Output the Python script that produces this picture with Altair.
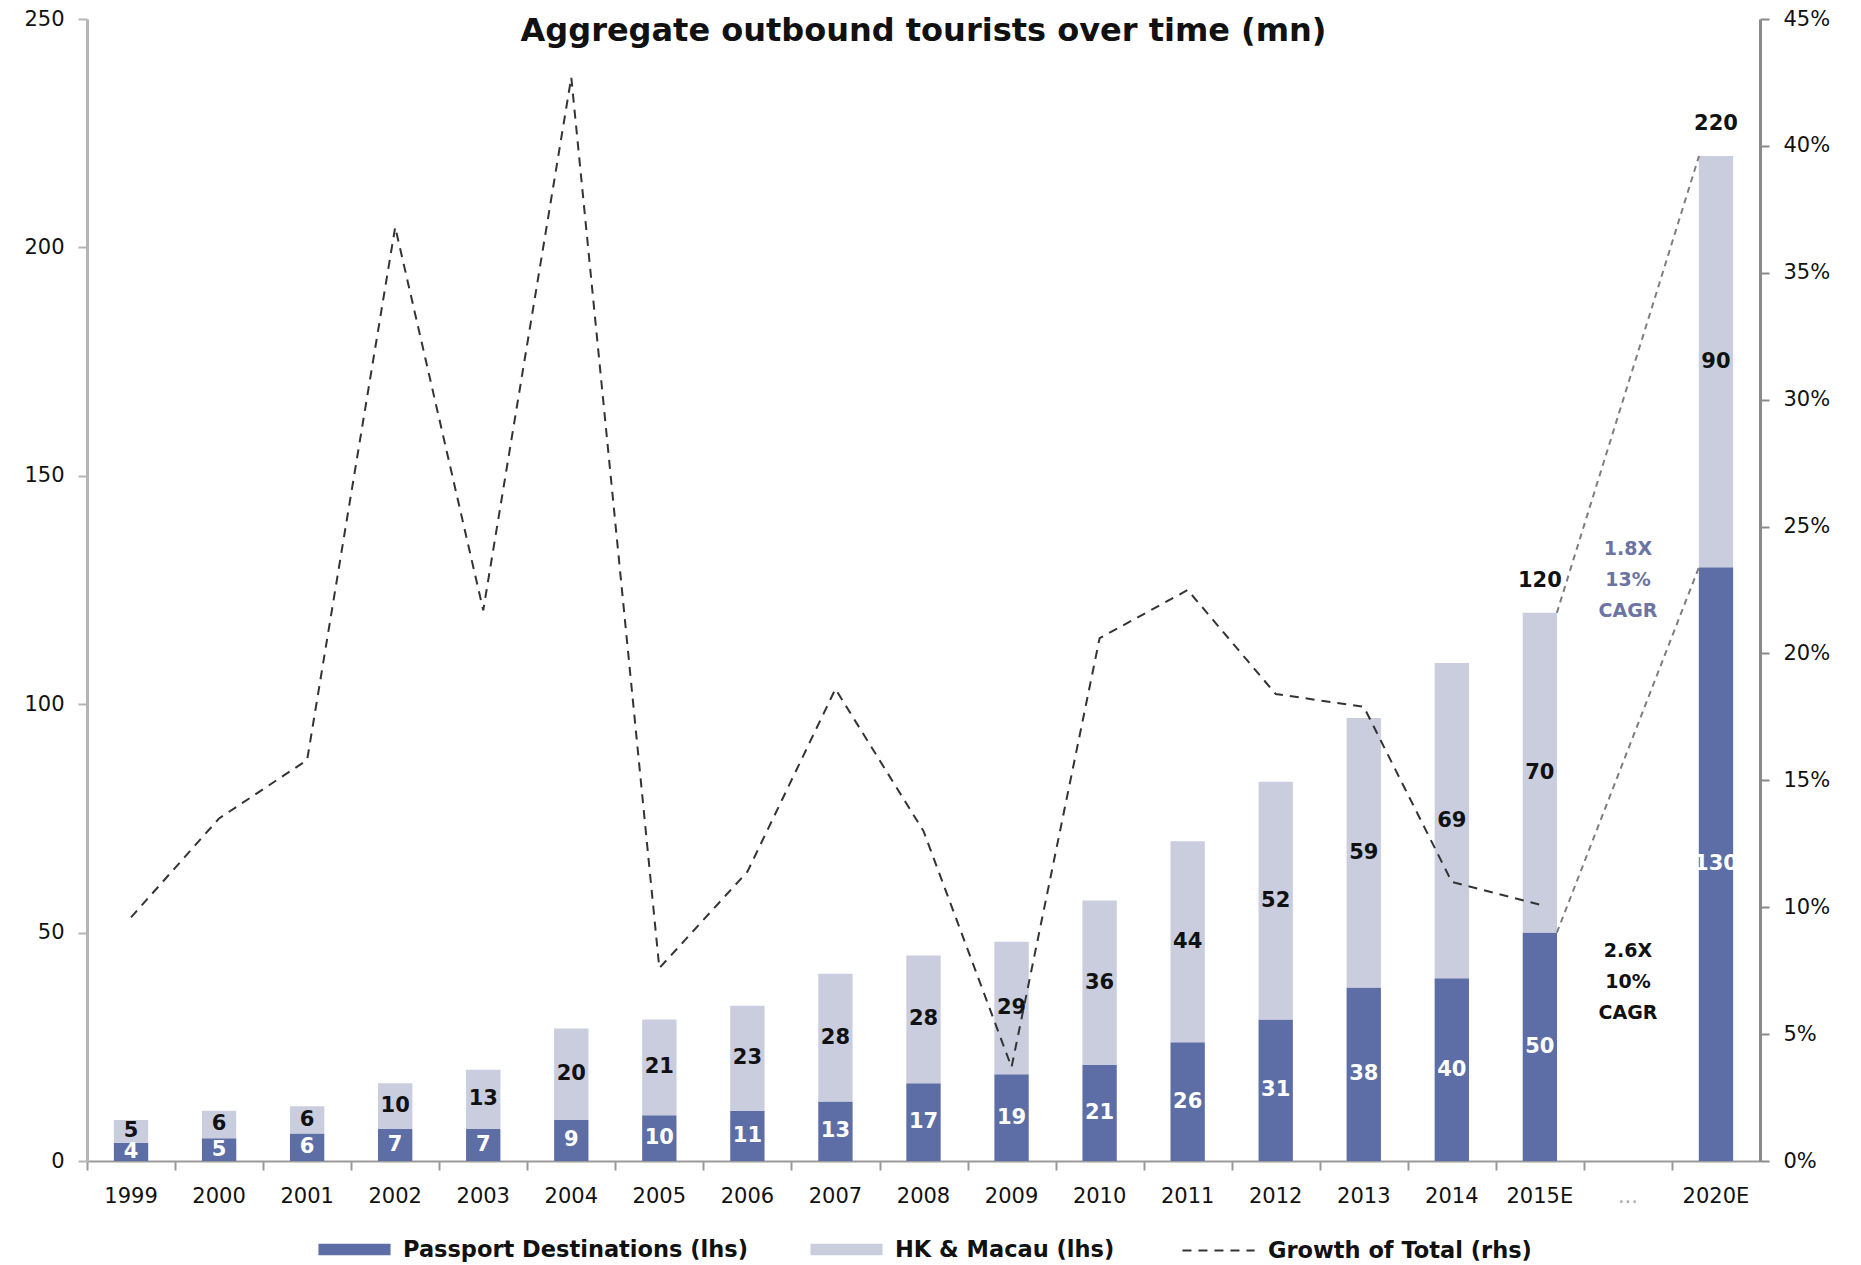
import altair as alt
import pandas as pd

# Categories along the x axis ("..." is an empty spacer before the 2020 estimate)
categories = ["1999", "2000", "2001", "2002", "2003", "2004", "2005", "2006",
              "2007", "2008", "2009", "2010", "2011", "2012", "2013", "2014",
              "2015E", "...", "2020E"]

# Outbound tourists (mn), left axis
passport = [4, 5, 6, 7, 7, 9, 10, 11, 13, 17, 19, 21, 26, 31, 38, 40, 50, None, 130]
hk_macau = [5, 6, 6, 10, 13, 20, 21, 23, 28, 28, 29, 36, 44, 52, 59, 69, 70, None, 90]

# Year-on-year growth of the total, right axis
growth = [0.096, 0.135, 0.158, 0.368, 0.217, 0.427, 0.076, 0.114, 0.186, 0.130,
          0.037, 0.206, 0.225, 0.184, 0.179, 0.110, 0.101, None, None]

SER_P = "Passport Destinations (lhs)"
SER_H = "HK & Macau (lhs)"
SER_G = "Growth of Total (rhs)"

total_label_cats = ["2015E", "2020E"]

# Projection callouts: (label category, y position on lhs, text, colour)
callouts = [("...", 134, "1.8X\n13%\nCAGR", "#6b74a3"),
            ("...", 46, "2.6X\n10%\nCAGR", "#111111")]

# ---- tables built from the arrays above ----
rows = []
for c, p, h in zip(categories, passport, hk_macau):
    if p is not None:
        rows.append({"cat": c, "series": SER_P, "value": p, "order": 0})
    if h is not None:
        rows.append({"cat": c, "series": SER_H, "value": h, "order": 1})
bars_df = pd.DataFrame(rows)

totals_df = pd.DataFrame([
    {"cat": c, "total": p + h}
    for c, p, h in zip(categories, passport, hk_macau)
    if c in total_label_cats
])

growth_df = pd.DataFrame([
    {"cat": c, "growth": g, "name": SER_G}
    for c, g in zip(categories, growth) if g is not None
])

i15, i20 = categories.index("2015E"), categories.index("2020E")
links_df = pd.DataFrame([
    {"c0": "2015E", "c1": "2020E",
     "y0": passport[i15] + hk_macau[i15], "y1": passport[i20] + hk_macau[i20]},
    {"c0": "2015E", "c1": "2020E", "y0": passport[i15], "y1": passport[i20]},
])

callout_df = pd.DataFrame([
    {"cat": c, "y": y, "txt": t, "col": col} for c, y, t, col in callouts
])

# ---- shared scales & axes ----
FONT = "DejaVu Sans"
xscale = alt.Scale(domain=categories, paddingInner=0.61, paddingOuter=0.305)
lhs_scale = alt.Scale(domain=[0, 250], nice=False, zero=True)
rhs_scale = alt.Scale(domain=[0, 0.45], nice=False, zero=True)

lhs_axis = alt.Axis(orient="left", values=[0, 50, 100, 150, 200, 250], title=None,
                    grid=False, domainColor="#b5b5b5", domainWidth=3,
                    tickColor="#b5b5b5", tickSize=9, tickWidth=2,
                    labelFont=FONT, labelFontSize=21, labelColor="#111",
                    labelPadding=14)
rhs_axis = alt.Axis(orient="right", values=[i * 0.05 for i in range(10)],
                    format=".0%", title=None, grid=False,
                    domainColor="#8a8a8a", domainWidth=3,
                    tickColor="#8a8a8a", tickSize=9, tickWidth=2,
                    labelFont=FONT, labelFontSize=21, labelColor="#111",
                    labelPadding=14)
x_label_axis = alt.Axis(orient="bottom", title=None, ticks=False, labelAngle=0,
                        domainColor="#9a9a9a", domainWidth=2,
                        labelFont=FONT, labelFontSize=21, labelPadding=24,
                        labelColor=alt.expr("datum.value == '...' ? '#aaaaaa' : '#111111'"))
x_tick_axis = alt.Axis(orient="bottom", title=None, labels=False, domain=False,
                       ticks=True, tickSize=9, tickWidth=2, tickColor="#9a9a9a",
                       tickOffset=-44)

X = lambda field, axis=None: alt.X(f"{field}:N", sort=categories, scale=xscale, axis=axis)

stacked = alt.Chart(bars_df).transform_stack(
    stack="value", groupby=["cat"], as_=["v0", "v1"],
    sort=[alt.SortField("order", order="ascending")]
)

bars = stacked.mark_bar().encode(
    x=X("cat", x_label_axis),
    y=alt.Y("v0:Q", scale=lhs_scale, axis=lhs_axis),
    y2="v1:Q",
    color=alt.Color(
        "series:N",
        scale=alt.Scale(domain=[SER_P, SER_H], range=["#5d6ea6", "#c9cdde"]),
        legend=alt.Legend(
            title=None, orient="none", legendX=231, legendY=1194,
            direction="horizontal", padding=0,
            symbolType="M-1,-0.16L1,-0.16L1,0.16L-1,0.16Z", symbolSize=5200,
            symbolStrokeWidth=0, labelFont=FONT, labelFontWeight="bold",
            labelFontSize=22.5, labelColor="#111", labelOffset=12,
            labelLimit=600, columnPadding=62,
        ),
    ),
)

seg_labels = stacked.transform_calculate(
    mid="(datum.v0 + datum.v1) / 2"
).mark_text(font=FONT, fontSize=21, fontWeight="bold").encode(
    x=X("cat", x_tick_axis),
    y=alt.Y("mid:Q", scale=lhs_scale, axis=None),
    text=alt.Text("value:Q"),
    color=alt.condition(alt.datum.series == SER_P, alt.value("white"), alt.value("#111")),
)

total_labels = alt.Chart(totals_df).mark_text(
    font=FONT, fontSize=21, fontWeight="bold", color="#111", dy=-32
).encode(
    x=X("cat"),
    y=alt.Y("total:Q", scale=lhs_scale, axis=None),
    text=alt.Text("total:Q"),
)

links = alt.Chart(links_df).mark_rule(
    xOffset=17, x2Offset=-17, strokeDash=[6, 5], color="#7d7d7d", strokeWidth=2
).encode(
    x=X("c0"), x2="c1:N",
    y=alt.Y("y0:Q", scale=lhs_scale, axis=None), y2="y1:Q",
)

callout_text = alt.Chart(callout_df).mark_text(
    font=FONT, fontSize=19, fontWeight="bold", lineBreak="\n", lineHeight=31
).encode(
    x=X("cat"),
    y=alt.Y("y:Q", scale=lhs_scale, axis=None),
    text="txt:N",
    color=alt.Color("col:N", scale=None),
)

growth_line = alt.Chart(growth_df).mark_line(
    color="#333333", strokeWidth=2
).encode(
    x=X("cat"),
    y=alt.Y("growth:Q", scale=rhs_scale, axis=rhs_axis),
    strokeDash=alt.StrokeDash(
        "name:N",
        scale=alt.Scale(domain=[SER_G], range=[[9, 7]]),
        legend=alt.Legend(
            title=None, orient="none", legendX=1094, legendY=1194,
            direction="horizontal", padding=0, symbolType="stroke",
            symbolSize=5200, symbolStrokeColor="#333", symbolStrokeWidth=2,
            labelFont=FONT, labelFontWeight="bold", labelFontSize=22.5,
            labelColor="#111", labelOffset=12, labelLimit=600,
        ),
    ),
)

chart = alt.layer(
    bars, seg_labels, total_labels, links, callout_text, growth_line
).resolve_scale(
    y="independent"
).resolve_axis(
    x="independent"
).properties(
    width=1673, height=1142,
    background="white",
    title=alt.TitleParams(
        "Aggregate outbound tourists over time (mn)", font=FONT, fontSize=32,
        fontWeight="bold", color="#111", anchor="middle", offset=0, dy=40,
    ),
    autosize=alt.AutoSizeParams(type="none"),
    padding={"left": 87, "top": 19, "right": 101, "bottom": 104},
).configure_view(
    stroke="transparent", strokeWidth=0
)

chart.save("out.html", embed_options={"renderer": "svg", "actions": False})
